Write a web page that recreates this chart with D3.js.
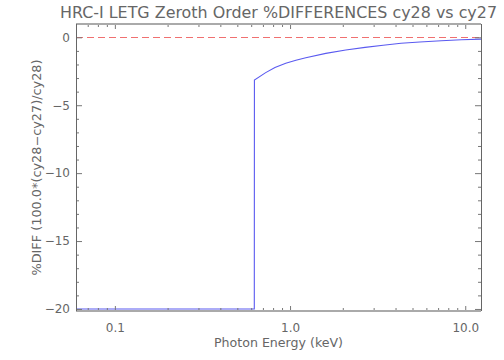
<!DOCTYPE html>
<html><head><meta charset="utf-8">
<script src="https://cdn.jsdelivr.net/npm/d3@7"></script>
<style>body{margin:0;background:#fff}svg{display:block}text{font-family:"DejaVu Sans",sans-serif;fill:#666}</style>
</head><body><svg id="c" width="504" height="360"></svg>
<script>
const energy = [0.06, 0.625, 0.626, 0.726, 0.82, 0.945, 1.08, 1.23, 1.6, 2.08, 2.68, 3.4, 4.3, 5.5, 7.3, 9.5, 12.3];
const diff   = [-20, -20, -3.14, -2.6, -2.22, -1.91, -1.69, -1.5, -1.18, -0.93, -0.74, -0.58, -0.44, -0.34, -0.25, -0.18, -0.13];
const xMajor = [0.1, 1, 10];
const xMajorLabels = ["0.1", "1.0", "10.0"];
const xMinor = [0.07,0.08,0.09,0.2,0.3,0.4,0.5,0.6,0.7,0.8,0.9,2,3,4,5,6,7,8,9];
const yMajor = [0, -5, -10, -15, -20];
const yMajorLabels = ["0", "\u22125", "\u221210", "\u221215", "\u221220"];
const yMinor = d3.range(-20, 1, 1).filter(v => v % 5 !== 0);
const title = "HRC-I LETG Zeroth Order %DIFFERENCES cy28 vs cy27";
const xTitle = "Photon Energy (keV)";
const yTitle = "%DIFF (100.0*(cy28\u2212cy27)/cy28)";

const L = 76, R = 481, T = 24, B = 311;
const svg = d3.select("#c");
svg.append("rect").attr("width",504).attr("height",360).attr("fill","#fff");
const x = d3.scaleLog().domain([0.06, 12.3]).range([L, R]);
const y = d3.scaleLinear().domain([-20.15, 0.98]).range([B, T]);

svg.append("defs").append("clipPath").attr("id","clip")
  .append("rect").attr("x",L).attr("y",T).attr("width",R-L).attr("height",B-T);

// zero dashed line
svg.append("line").attr("x1",L).attr("x2",R).attr("y1",Math.round(y(0))+0.5).attr("y2",Math.round(y(0))+0.5)
  .attr("stroke","#f07070").attr("stroke-width",1).attr("stroke-dasharray","7,4");

// data line
const pts = energy.map((e,i)=>[e, diff[i]]);
svg.append("path").datum(pts).attr("clip-path","url(#clip)")
  .attr("fill","none").attr("stroke","#5a5af0").attr("stroke-width",1.1)
  .attr("d", d3.line().x(d=>x(d[0])).y(d=>y(d[1])));

function styleAx(g, col){ g.select(".domain").remove(); g.selectAll(".tick line").attr("stroke",col); g.selectAll("text").remove(); }
const axCol = "#777";
svg.append("g").attr("transform",`translate(0,${B})`).call(d3.axisBottom(x).tickValues(xMajor).tickSizeInner(-5).tickSizeOuter(0)).call(g=>styleAx(g,axCol));
svg.append("g").attr("transform",`translate(0,${B})`).call(d3.axisBottom(x).tickValues(xMinor).tickSizeInner(-3).tickSizeOuter(0)).call(g=>styleAx(g,axCol));
svg.append("g").attr("transform",`translate(0,${T})`).call(d3.axisTop(x).tickValues(xMajor).tickSizeInner(-5).tickSizeOuter(0)).call(g=>styleAx(g,axCol));
svg.append("g").attr("transform",`translate(0,${T})`).call(d3.axisTop(x).tickValues(xMinor).tickSizeInner(-3).tickSizeOuter(0)).call(g=>styleAx(g,axCol));
svg.append("g").attr("transform",`translate(${L},0)`).call(d3.axisLeft(y).tickValues(yMajor).tickSizeInner(-6).tickSizeOuter(0)).call(g=>styleAx(g,axCol));
svg.append("g").attr("transform",`translate(${L},0)`).call(d3.axisLeft(y).tickValues(yMinor).tickSizeInner(-3).tickSizeOuter(0)).call(g=>styleAx(g,axCol));
svg.append("g").attr("transform",`translate(${R},0)`).call(d3.axisRight(y).tickValues(yMajor).tickSizeInner(-6).tickSizeOuter(0)).call(g=>styleAx(g,axCol));
svg.append("g").attr("transform",`translate(${R},0)`).call(d3.axisRight(y).tickValues(yMinor).tickSizeInner(-3).tickSizeOuter(0)).call(g=>styleAx(g,axCol));

svg.append("line").attr("x1",L).attr("x2",R).attr("y1",T).attr("y2",T).attr("stroke","#aaa").attr("stroke-width",2);
svg.append("line").attr("x1",L).attr("x2",R).attr("y1",B).attr("y2",B).attr("stroke","#aaa").attr("stroke-width",2);
svg.append("line").attr("x1",L+0.5).attr("x2",L+0.5).attr("y1",T).attr("y2",B).attr("stroke","#666").attr("stroke-width",1);
svg.append("line").attr("x1",R+0.5).attr("x2",R+0.5).attr("y1",T).attr("y2",B).attr("stroke","#666").attr("stroke-width",1);

const xl = d3.axisBottom(x).tickValues(xMajor).tickFormat((d,i)=>xMajorLabels[i]).tickSize(0).tickPadding(12);
svg.append("g").attr("transform",`translate(0,${B})`).call(xl).call(g=>{g.select(".domain").remove();g.selectAll("text").attr("font-size",12).style("font-family","DejaVu Sans").attr("fill","#666");});
const yl = d3.axisLeft(y).tickValues(yMajor).tickFormat((d,i)=>yMajorLabels[i]).tickSize(0).tickPadding(6);
svg.append("g").attr("transform",`translate(${L},0)`).call(yl).call(g=>{g.select(".domain").remove();g.selectAll("text").attr("font-size",12).style("font-family","DejaVu Sans").attr("fill","#666");});

svg.append("text").attr("x",(L+R)/2).attr("y",17.5).attr("text-anchor","middle").attr("font-size",15)
  .attr("textLength",437).attr("lengthAdjust","spacingAndGlyphs").text(title);
svg.append("text").attr("x",(L+R)/2).attr("y",347).attr("text-anchor","middle").attr("font-size",12)
  .attr("textLength",129).attr("lengthAdjust","spacingAndGlyphs").text(xTitle);
svg.append("text").attr("transform",`translate(41,${(T+B)/2}) rotate(-90)`).attr("text-anchor","middle").attr("font-size",12)
  .attr("textLength",216).attr("lengthAdjust","spacingAndGlyphs").text(yTitle);
</script></body></html>
